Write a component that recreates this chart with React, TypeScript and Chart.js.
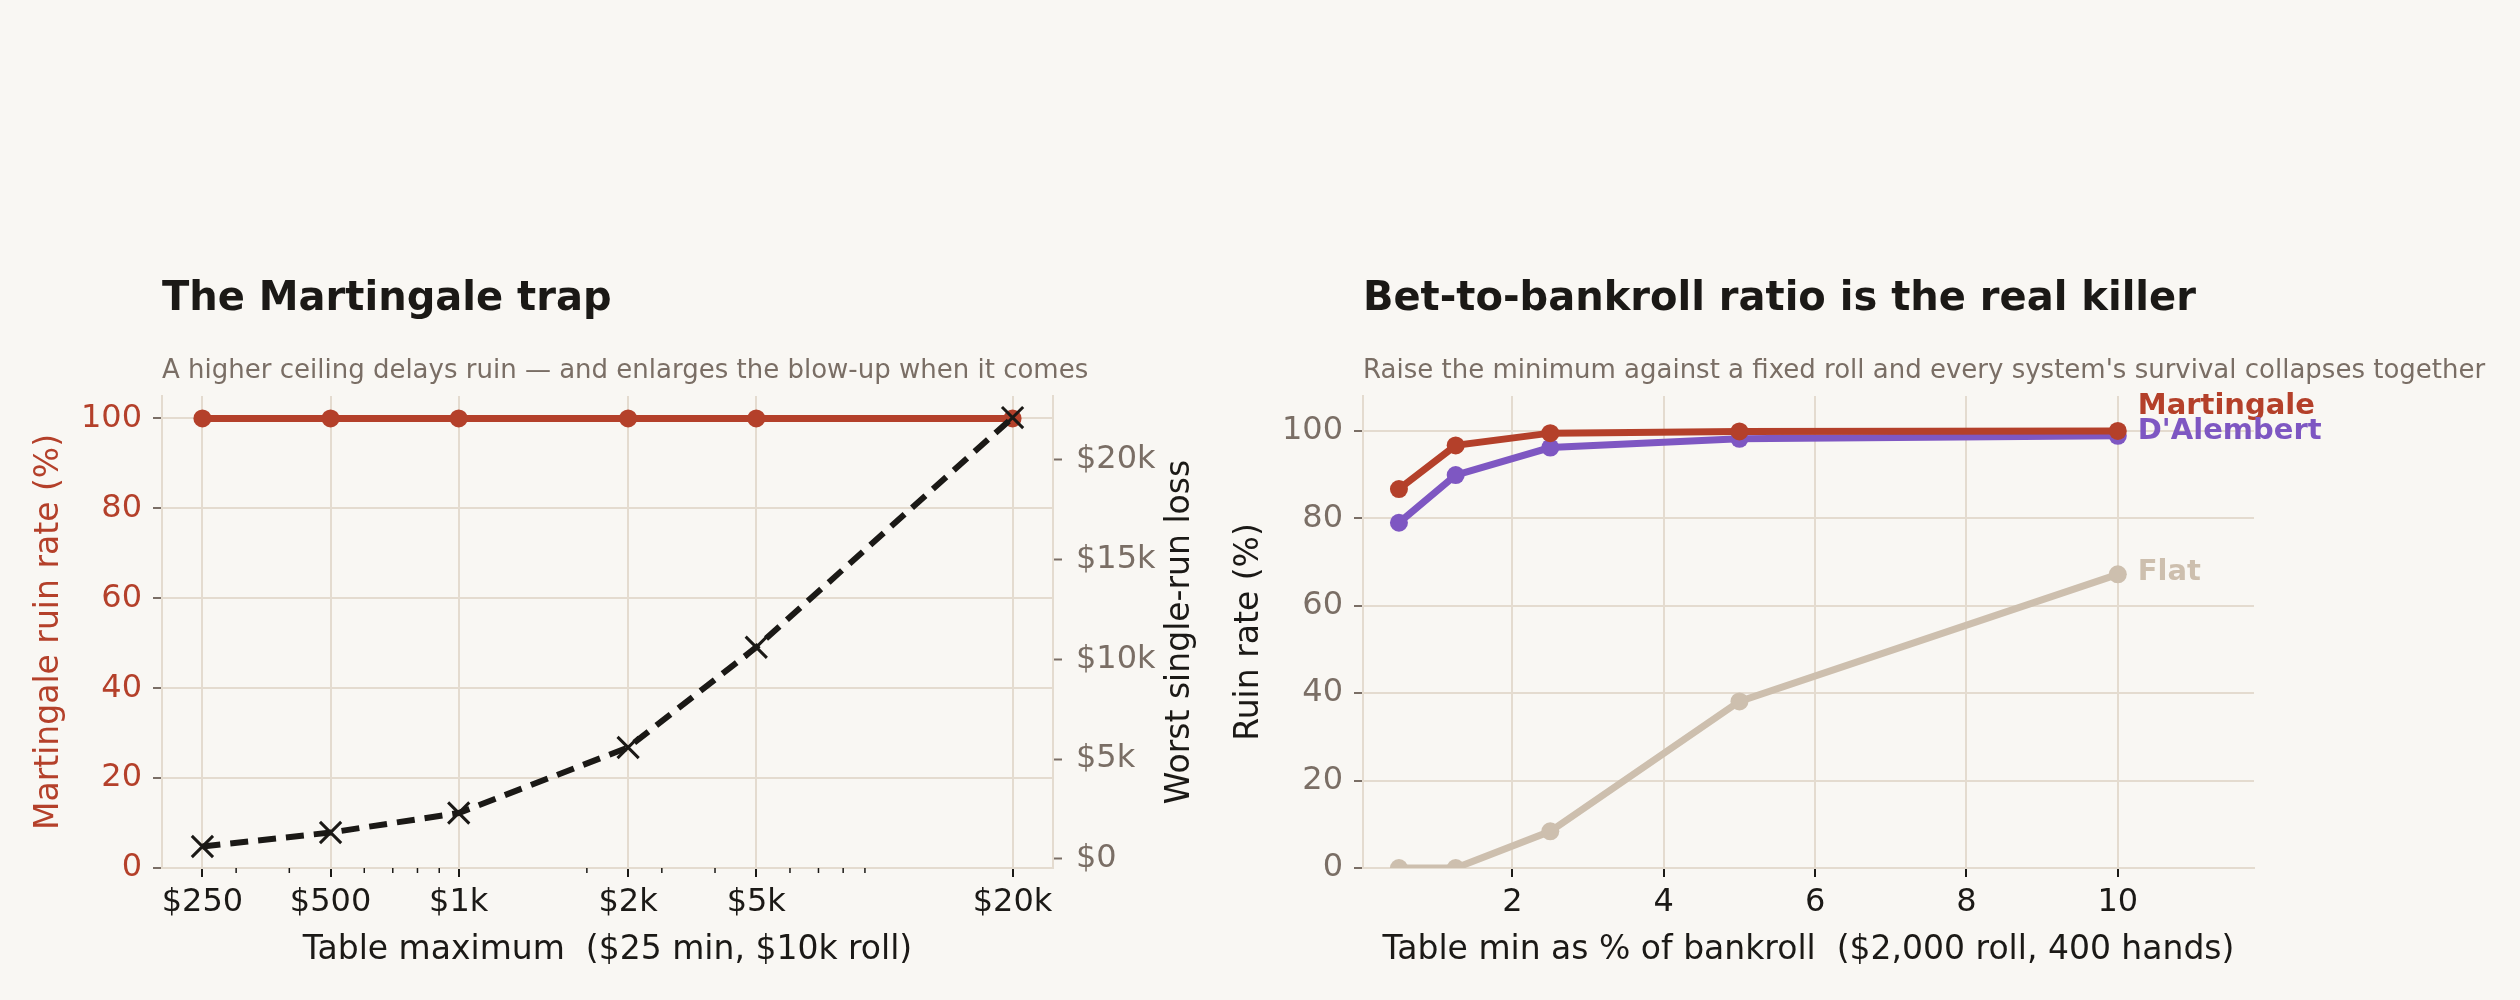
import React, { useEffect, useRef } from 'react';
import { Chart, registerables } from 'chart.js';

Chart.register(...registerables);

const FONT = '"DejaVu Sans"';
Chart.defaults.font.family = FONT;

const BG = '#f9f7f3';
const INK = '#1b1916';
const MUTED = '#7a6e65';
const GRID = '#e4dbcf';
const RED = '#b4402a';
const PURPLE = '#7e57c2';
const SAND = '#cdbfae';

// left panel: table maximum sweep ($25 min, $10k roll)
const TABLE_MAX = [250, 500, 1000, 2500, 5000, 20000];
const TABLE_MAX_LABELS = ['$250', '$500', '$1k', '$2k', '$5k', '$20k'];
const MINOR_TICKS = [300, 400, 600, 700, 800, 900, 2000, 3000, 4000, 6000, 7000, 8000, 9000];
const MART_RUIN = [100, 100, 100, 100, 100, 100];
const WORST_LOSS = [620, 1320, 2300, 5580, 10600, 22100];
const RUIN_TICKS = [0, 20, 40, 60, 80, 100];
const LOSS_TICKS = [0, 5000, 10000, 15000, 20000];
const LOSS_TICK_LABELS = ['$0', '$5k', '$10k', '$15k', '$20k'];

// right panel: table min as % of a $2,000 roll
const MIN_PCT = [0.5, 1.25, 2.5, 5, 10];
const PCT_TICKS = [2, 4, 6, 8, 10];
const RUIN_MARTINGALE = [86.7, 96.7, 99.5, 99.9, 100];
const RUIN_DALEMBERT = [79.0, 89.9, 96.2, 98.2, 98.9];
const RUIN_FLAT = [0, 0, 8.4, 38.1, 67.2];
const LABEL_NUDGE = [-24, -4, -2];

const headerPlugin = {
  id: 'header',
  afterDraw(chart: any, _args: any, opts: any) {
    const { ctx, chartArea } = chart;
    ctx.save();
    ctx.textAlign = 'left';
    ctx.textBaseline = 'middle';
    ctx.fillStyle = INK;
    ctx.font = `bold 40px ${FONT}`;
    ctx.fillText(opts.title, chartArea.left, chartArea.top - 96);
    ctx.fillStyle = MUTED;
    ctx.font = `26px ${FONT}`;
    ctx.fillText(opts.subtitle, chartArea.left, chartArea.top - 25);
    ctx.restore();
  },
};

// matplotlib-style minor ticks + right axis label reading bottom-to-top
const leftExtras = {
  id: 'leftExtras',
  afterDraw(chart: any) {
    const { ctx, chartArea, scales } = chart;
    ctx.save();
    ctx.strokeStyle = INK;
    ctx.lineWidth = 1.5;
    MINOR_TICKS.forEach((v) => {
      const x = scales.x.getPixelForValue(v);
      ctx.beginPath();
      ctx.moveTo(x, chartArea.bottom);
      ctx.lineTo(x, chartArea.bottom + 5);
      ctx.stroke();
    });
    ctx.translate(chartArea.right + 127, (chartArea.top + chartArea.bottom) / 2);
    ctx.rotate(-Math.PI / 2);
    ctx.textAlign = 'center';
    ctx.textBaseline = 'middle';
    ctx.fillStyle = INK;
    ctx.font = `33px ${FONT}`;
    ctx.fillText('Worst single-run loss', 0, 0);
    ctx.restore();
  },
};

const endLabels = {
  id: 'endLabels',
  afterDatasetsDraw(chart: any) {
    const { ctx } = chart;
    ctx.save();
    ctx.textAlign = 'left';
    ctx.textBaseline = 'middle';
    ctx.font = `bold 29px ${FONT}`;
    chart.data.datasets.forEach((ds: any, i: number) => {
      const meta = chart.getDatasetMeta(i);
      const pt = meta.data[meta.data.length - 1];
      ctx.fillStyle = ds.borderColor;
      ctx.fillText(ds.label, pt.x + 20, pt.y + LABEL_NUDGE[i]);
    });
    ctx.restore();
  },
};

function LeftChart() {
  const chartRef = useRef<HTMLCanvasElement | null>(null);

  useEffect(() => {
    if (!chartRef.current) return;
    const chart = new Chart(chartRef.current, {
      type: 'line',
      data: {
        datasets: [
          {
            label: 'Worst single-run loss',
            data: TABLE_MAX.map((x, i) => ({ x, y: WORST_LOSS[i] })),
            yAxisID: 'y1',
            borderColor: INK,
            backgroundColor: INK,
            borderWidth: 6,
            borderDash: [18, 10],
            pointStyle: 'crossRot',
            pointRadius: 15,
            pointBorderWidth: 3,
            pointBorderColor: INK,
            tension: 0,
          },
          {
            label: 'Martingale ruin rate',
            data: TABLE_MAX.map((x, i) => ({ x, y: MART_RUIN[i] })),
            yAxisID: 'y',
            borderColor: RED,
            backgroundColor: RED,
            borderWidth: 7,
            pointRadius: 9,
            pointBorderWidth: 0,
            tension: 0,
          },
        ],
      },
      options: {
        animation: false,
        responsive: true,
        maintainAspectRatio: false,
        layout: { padding: { top: 396, left: 0, right: 0, bottom: 0 } },
        plugins: {
          legend: { display: false },
          tooltip: { enabled: false },
          header: {
            title: 'The Martingale trap',
            subtitle: 'A higher ceiling delays ruin \u2014 and enlarges the blow-up when it comes',
          },
        } as any,
        scales: {
          x: {
            type: 'logarithmic',
            position: 'bottom',
            min: 200.9,
            max: 24890,
            afterBuildTicks: (s: any) => {
              s.ticks = TABLE_MAX.map((v) => ({ value: v }));
            },
            afterFit: (s: any) => {
              s.height = 132;
            },
            grid: { color: GRID, lineWidth: 2, tickColor: INK, tickLength: 9, tickWidth: 2 },
            border: { color: GRID, width: 2 },
            ticks: {
              color: INK,
              font: { size: 32 },
              padding: 6,
              autoSkip: false,
              maxRotation: 0,
              callback: (v: any) => TABLE_MAX_LABELS[TABLE_MAX.indexOf(Number(v))] ?? '',
            },
            title: {
              display: true,
              text: 'Table maximum  ($25 min, $10k roll)',
              color: INK,
              font: { size: 33 },
              padding: { top: 0, bottom: 30 },
            },
          },
          y: {
            position: 'left',
            min: 0,
            max: 105,
            afterBuildTicks: (s: any) => {
              s.ticks = RUIN_TICKS.map((v) => ({ value: v }));
            },
            afterFit: (s: any) => {
              s.width = 162;
            },
            grid: { color: GRID, lineWidth: 2, tickColor: MUTED, tickLength: 9, tickWidth: 2 },
            border: { color: GRID, width: 2 },
            ticks: { color: RED, font: { size: 32 }, padding: 11 },
            title: {
              display: true,
              text: 'Martingale ruin rate (%)',
              color: RED,
              font: { size: 33 },
              padding: { top: 30, bottom: 0 },
            },
          },
          y1: {
            position: 'right',
            min: -456,
            max: 23180,
            afterBuildTicks: (s: any) => {
              s.ticks = LOSS_TICKS.map((v) => ({ value: v }));
            },
            afterFit: (s: any) => {
              s.width = 167;
            },
            grid: { drawOnChartArea: false, tickColor: MUTED, tickLength: 9, tickWidth: 2 },
            border: { color: GRID, width: 2 },
            ticks: {
              color: MUTED,
              font: { size: 32 },
              padding: 14,
              callback: (v: any) => LOSS_TICK_LABELS[LOSS_TICKS.indexOf(Number(v))] ?? '',
            },
          },
        },
      } as any,
      plugins: [headerPlugin, leftExtras],
    });
    return () => {
      chart.destroy();
    };
  }, []);

  return (
    <div style={{ position: 'absolute', left: 0, top: 0, width: 1220, height: 1000 }}>
      <canvas ref={chartRef} />
    </div>
  );
}

function RightChart() {
  const chartRef = useRef<HTMLCanvasElement | null>(null);

  useEffect(() => {
    if (!chartRef.current) return;
    const series = [
      { label: 'Martingale', values: RUIN_MARTINGALE, color: RED },
      { label: "D'Alembert", values: RUIN_DALEMBERT, color: PURPLE },
      { label: 'Flat', values: RUIN_FLAT, color: SAND },
    ];
    const chart = new Chart(chartRef.current, {
      type: 'line',
      data: {
        datasets: series.map((s) => ({
          label: s.label,
          data: MIN_PCT.map((x, i) => ({ x, y: s.values[i] })),
          borderColor: s.color,
          backgroundColor: s.color,
          borderWidth: 7,
          pointRadius: 9,
          pointBorderWidth: 0,
          tension: 0,
        })),
      },
      options: {
        animation: false,
        responsive: true,
        maintainAspectRatio: false,
        layout: { padding: { top: 396, left: 0, right: 266, bottom: 0 } },
        plugins: {
          legend: { display: false },
          tooltip: { enabled: false },
          header: {
            title: 'Bet-to-bankroll ratio is the real killer',
            subtitle: "Raise the minimum against a fixed roll and every system's survival collapses together",
          },
        } as any,
        scales: {
          x: {
            type: 'linear',
            position: 'bottom',
            min: 0.025,
            max: 11.8,
            afterBuildTicks: (s: any) => {
              s.ticks = PCT_TICKS.map((v) => ({ value: v }));
            },
            afterFit: (s: any) => {
              s.height = 132;
            },
            grid: { color: GRID, lineWidth: 2, tickColor: INK, tickLength: 9, tickWidth: 2 },
            border: { color: GRID, width: 2 },
            ticks: { color: INK, font: { size: 32 }, padding: 6, maxRotation: 0 },
            title: {
              display: true,
              text: 'Table min as % of bankroll  ($2,000 roll, 400 hands)',
              color: INK,
              font: { size: 33 },
              padding: { top: 0, bottom: 30 },
            },
          },
          y: {
            position: 'left',
            min: 0,
            max: 108,
            afterBuildTicks: (s: any) => {
              s.ticks = RUIN_TICKS.map((v) => ({ value: v }));
            },
            afterFit: (s: any) => {
              s.width = 143;
            },
            grid: { color: GRID, lineWidth: 2, tickColor: MUTED, tickLength: 9, tickWidth: 2 },
            border: { color: GRID, width: 2 },
            ticks: { color: MUTED, font: { size: 32 }, padding: 11 },
            title: {
              display: true,
              text: 'Ruin rate (%)',
              color: INK,
              font: { size: 33 },
              padding: { top: 10, bottom: 0 },
            },
          },
        },
      } as any,
      plugins: [headerPlugin, endLabels],
    });
    return () => {
      chart.destroy();
    };
  }, []);

  return (
    <div style={{ position: 'absolute', left: 1220, top: 0, width: 1300, height: 1000 }}>
      <canvas ref={chartRef} />
    </div>
  );
}

export default function App() {
  return (
    <div style={{ position: 'absolute', left: 0, top: 0, width: 2520, height: 1000, background: BG }}>
      <LeftChart />
      <RightChart />
    </div>
  );
}
